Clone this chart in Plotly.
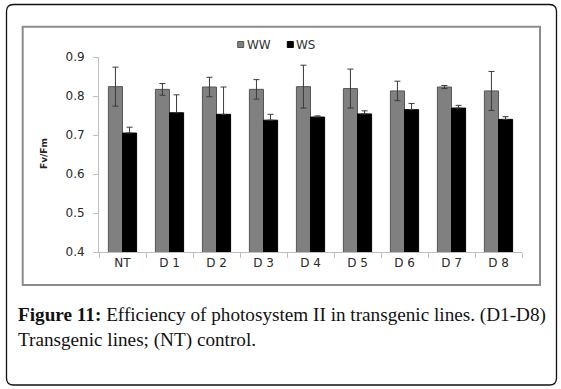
import plotly.graph_objects as go

categories = ["NT", "D 1", "D 2", "D 3", "D 4", "D 5", "D 6", "D 7", "D 8"]
ww_values = [0.824, 0.817, 0.823, 0.817, 0.824, 0.819, 0.813, 0.823, 0.813]
ww_errors = [0.050, 0.015, 0.025, 0.025, 0.055, 0.050, 0.025, 0.004, 0.050]
ws_values = [0.705, 0.757, 0.753, 0.738, 0.746, 0.754, 0.765, 0.769, 0.740]
ws_errors = [0.015, 0.046, 0.070, 0.015, 0.003, 0.008, 0.016, 0.007, 0.007]
y_ticks = [0.4, 0.5, 0.6, 0.7, 0.8, 0.9]
series_names = ["WW", "WS"]
series_colors = ["#808080", "#000000"]

W, H = 561, 389
L, R, T, B = 99, 39, 57, 137
PW, PH = W - L - R, H - T - B


def xp(px):
    return (px - L) / PW


def yp(py):
    return (H - B - py) / PH


fig = go.Figure()
fig.add_trace(go.Bar(
    name=series_names[0], x=categories, y=ww_values,
    marker=dict(color=series_colors[0], line=dict(color="#555555", width=1)),
    error_y=dict(type="data", array=ww_errors, color="#3a3a3a", thickness=1, width=3),
))
fig.add_trace(go.Bar(
    name=series_names[1], x=categories, y=ws_values,
    marker=dict(color=series_colors[1], line=dict(color="#000000", width=1)),
    error_y=dict(type="data", array=ws_errors, symmetric=False,
                 arrayminus=[0] * len(ws_errors), color="#3a3a3a", thickness=1, width=3),
))

# rounded outer frame
x0, x1, y0, y1, r = xp(6.5), xp(556.5), yp(4.5), yp(385), 7
rx, ry = r / PW, r / PH
path = (f"M {x0+rx},{y0} L {x1-rx},{y0} Q {x1},{y0} {x1},{y0-ry} "
        f"L {x1},{y1+ry} Q {x1},{y1} {x1-rx},{y1} "
        f"L {x0+rx},{y1} Q {x0},{y1} {x0},{y1+ry} "
        f"L {x0},{y0-ry} Q {x0},{y0} {x0+rx},{y0} Z")

legend_font = dict(family="DejaVu Sans", size=12, color="#333333")
legend_items = [(237.7, series_colors[0], "#555555"), (287.3, series_colors[1], "#000000")]
shapes = [
    dict(type="rect", xref="paper", yref="paper", x0=xp(22.7), x1=xp(540),
         y0=yp(26.7), y1=yp(285), line=dict(color="#8c8c8c", width=2), layer="below"),
    dict(type="path", xref="paper", yref="paper", path=path,
         line=dict(color="#111111", width=1.3), layer="below"),
]
annotations = []
for (sx, fill, edge), name in zip(legend_items, series_names):
    shapes.append(dict(type="rect", xref="paper", yref="paper", x0=xp(sx), x1=xp(sx + 6),
                       y0=yp(41.5), y1=yp(47.5), fillcolor=fill, line=dict(color=edge, width=1)))
    annotations.append(dict(text=name, xref="paper", yref="paper", x=xp(sx + 7), y=yp(44.5),
                            xanchor="left", yanchor="middle", showarrow=False, font=legend_font))

caption_font = dict(family="Liberation Serif", size=19.2, color="#111111")
annotations += [
    dict(text="<b>Fv/Fm</b>", xref="paper", yref="paper", x=xp(44), y=yp(154),
         textangle=-90, showarrow=False, xanchor="center", yanchor="middle",
         font=dict(family="DejaVu Sans", size=9, color="#222222")),
    dict(text="<b>Figure 11:</b> Efficiency of photosystem II in transgenic lines. (D1-D8)",
         xref="paper", yref="paper", x=xp(16), y=yp(315), xanchor="left", yanchor="middle",
         showarrow=False, font=caption_font),
    dict(text="Transgenic lines; (NT) control.",
         xref="paper", yref="paper", x=xp(16), y=yp(340), xanchor="left", yanchor="middle",
         showarrow=False, font=caption_font),
]

tick_font = dict(family="DejaVu Sans", size=12, color="#2a2a2a")
fig.update_layout(
    width=W, height=H,
    margin=dict(l=L, r=R, t=T, b=B),
    paper_bgcolor="white", plot_bgcolor="white",
    barmode="group", bargap=0.4, bargroupgap=0,
    showlegend=False,
    xaxis=dict(range=[-0.5, 8.5], showline=True, linecolor="#bfbfbf", linewidth=1,
               ticks="outside", tickson="boundaries", ticklen=5, tickcolor="#bfbfbf",
               tickfont=tick_font, showgrid=False, zeroline=False, fixedrange=True),
    yaxis=dict(range=[0.4, 0.9], tickvals=y_ticks, ticktext=[f"{v:.1f}" for v in y_ticks],
               showline=True, linecolor="#bfbfbf", linewidth=1,
               ticks="outside", ticklen=5, tickcolor="#bfbfbf", ticklabelstandoff=6,
               tickfont=tick_font, showgrid=False, zeroline=False, fixedrange=True),
    shapes=shapes,
    annotations=annotations,
)

fig.write_html("out.html", config={"displayModeBar": False},
               post_script="document.body.style.margin='0';document.body.style.overflow='hidden';")
